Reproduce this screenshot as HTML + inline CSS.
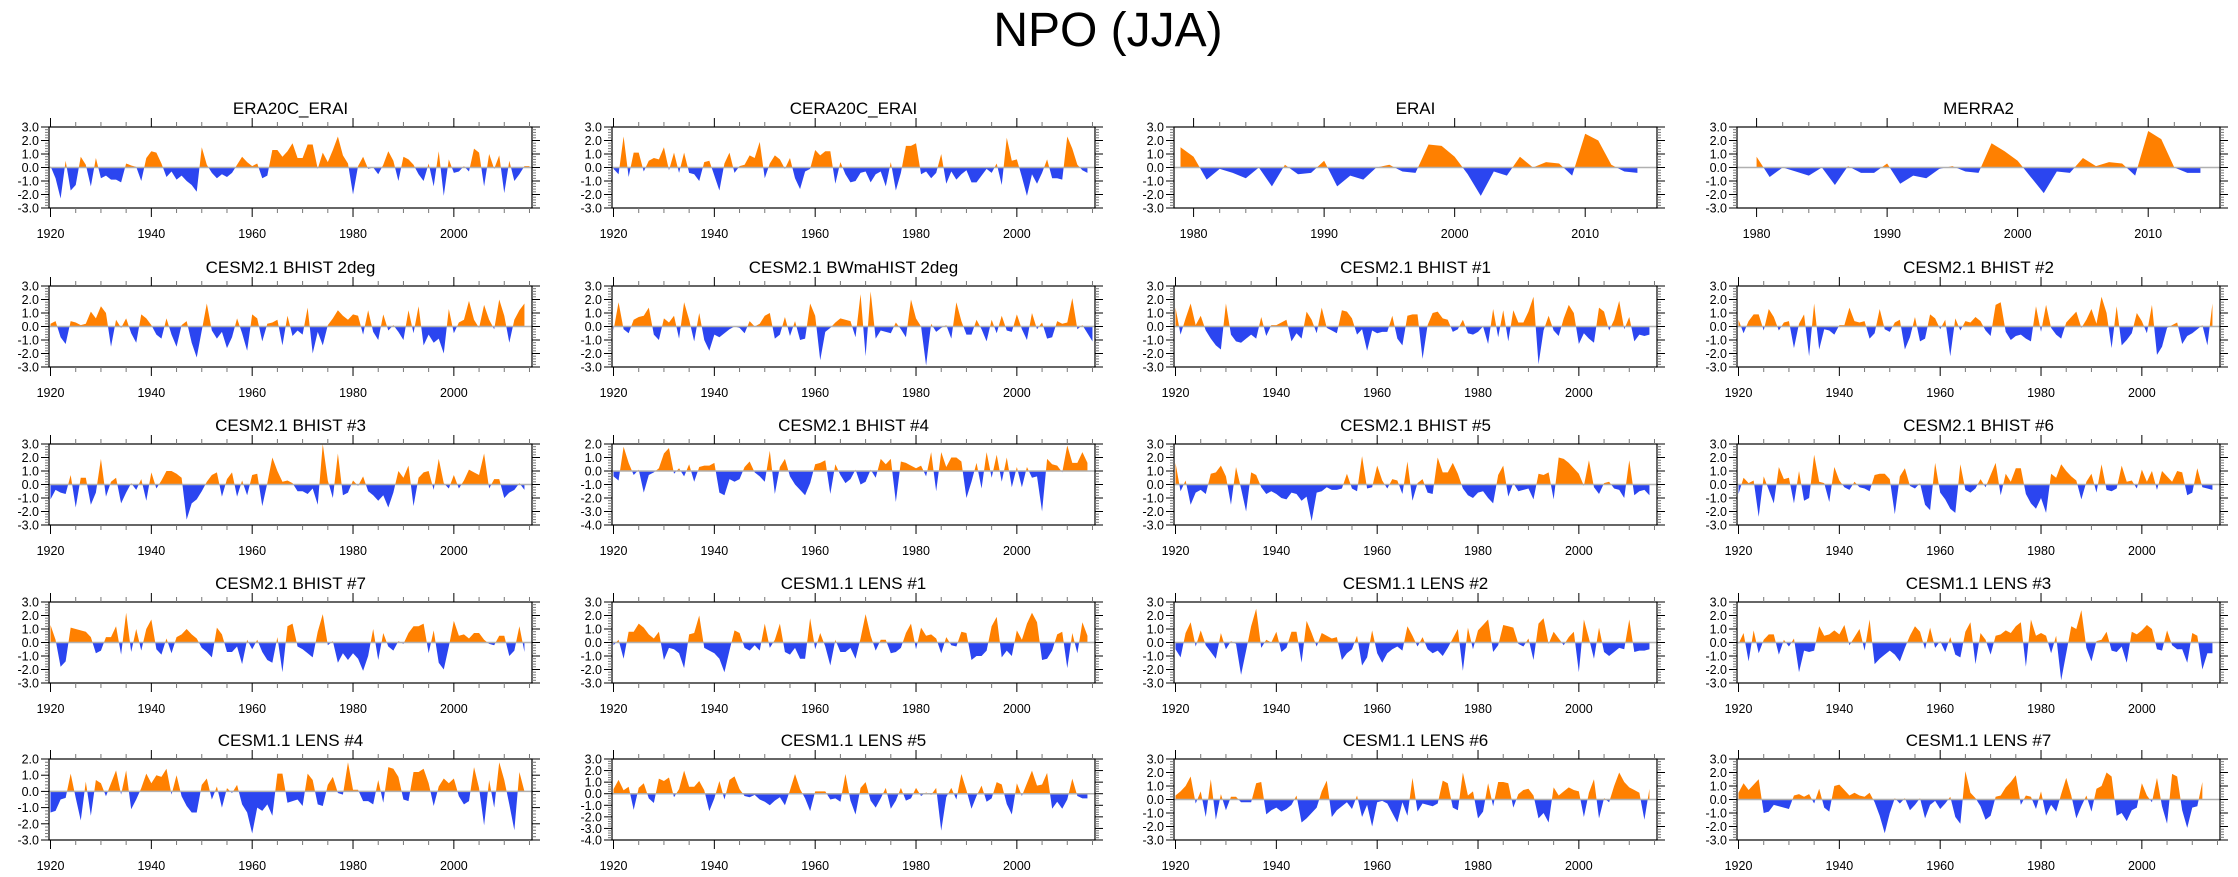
<!DOCTYPE html>
<html><head><meta charset="utf-8"><style>
html,body{margin:0;padding:0;background:#fff}
svg{display:block;font-family:"Liberation Sans",sans-serif}
</style></head><body>
<svg id="fig" width="2238" height="877" viewBox="0 0 2238 877" xmlns="http://www.w3.org/2000/svg">
<text x="1108" y="46" font-size="48" text-anchor="middle">NPO (JJA)</text>
<defs id="defs"></defs>
</svg>
<script>
// ---- data (annual NPO index) ----
const era20cErai = [0.1,-0.8,-2.3,0.5,-1.7,-1.3,0.8,0.2,-1.4,0.7,-0.8,-0.6,-0.9,-0.9,-1.1,0.3,0.15,0.05,-1.0,0.7,1.2,1.1,0.3,-0.7,-0.3,-0.9,-0.6,-1.0,-1.3,-1.8,1.5,0.2,-0.4,-0.8,-0.5,-0.7,-0.4,0.2,0.8,0.4,0.1,0.3,-0.8,-0.6,1.3,1.3,0.8,1.2,1.8,0.7,0.7,1.7,1.7,-0.1,1.1,0.4,1.3,2.3,0.9,0.3,-2.0,0.1,0.8,-0.1,0.0,-0.5,0.2,1.2,0.5,-1.0,0.8,0.6,0.2,-0.5,-1.0,0.3,-1.4,1.2,-2.1,0.6,-0.4,-0.3,0.1,-0.3,1.4,1.1,-1.4,1.0,-0.1,0.9,-1.9,0.5,-1.0,-0.5,0.1,0.1];
const cera20cErai = [-0.1,-0.5,2.3,-0.7,1.1,1.1,-0.3,0.5,0.7,0.6,1.5,-0.2,1.1,-0.4,1.1,-0.4,-0.5,-1.0,0.4,0.5,-0.6,-1.7,0.3,1.1,-0.4,0.1,0.2,0.9,0.7,1.9,-0.8,0.3,0.9,0.6,-0.1,0.7,-0.8,-1.6,-0.3,-0.1,1.3,0.9,1.2,1.2,-1.2,0.4,-0.5,-1.1,-1.0,-0.4,-0.3,-1.1,-0.5,-0.3,-1.4,0.4,-1.7,-0.4,1.6,1.6,1.8,-0.5,-0.3,-0.8,-0.4,1.0,-1.2,-0.3,-0.9,-0.5,-0.2,-1.1,-1.1,-0.6,-0.1,-0.4,0.3,-1.3,2.2,0.5,0.6,-0.7,-2.1,-0.5,-1.2,-0.4,0.6,-0.8,-0.8,-0.9,2.3,1.4,0.2,-0.2,-0.4];
const erai = [1.5,0.8,-0.9,-0.1,-0.4,-0.8,0.0,-1.4,0.2,-0.5,-0.4,0.5,-1.4,-0.6,-0.9,0.0,0.2,-0.3,-0.4,1.7,1.6,0.8,-0.5,-2.1,-0.3,-0.6,0.8,0.0,0.4,0.3,-0.6,2.5,2.0,0.2,-0.3,-0.4];
const merra2 = [0.8,-0.7,0.0,-0.3,-0.6,0.0,-1.3,0.1,-0.4,-0.4,0.3,-1.2,-0.6,-0.8,-0.1,0.1,-0.3,-0.4,1.8,1.2,0.5,-0.7,-1.9,-0.3,-0.4,0.7,0.1,0.4,0.3,-0.6,2.7,2.1,0.0,-0.4,-0.4];
const bhist2deg = [0.2,0.4,-0.8,-1.3,0.4,0.3,0.1,0.2,1.1,0.6,1.5,1.0,-1.5,0.5,-0.1,0.6,-0.5,-1.2,0.9,0.6,0.1,-0.6,-0.9,0.6,-0.6,-1.5,0.1,0.4,-1.2,-2.3,-0.3,1.7,-0.3,-0.9,-0.4,-1.6,-0.8,0.6,-0.5,-1.8,0.9,0.6,-1.1,0.2,0.3,0.5,-1.4,0.8,-0.7,-0.3,-0.6,1.4,-2.0,-0.4,-1.4,0.1,0.6,1.2,0.8,0.5,0.9,0.8,-0.6,1.2,-0.4,-1.0,0.9,-0.3,0.1,-0.4,-1.0,1.2,-0.5,1.5,-1.4,-0.6,-1.2,-0.9,-2.0,1.3,-0.5,0.3,0.5,1.9,0.5,-0.1,1.6,0.5,-0.2,2.0,0.8,-1.2,0.5,1.2,1.7];
const bwmahist2deg = [-0.3,1.8,-0.2,-0.5,0.5,0.7,0.8,1.4,-0.6,-1.0,0.6,0.3,0.8,-0.9,1.8,0.5,-1.1,1.0,-1.0,-1.8,-0.6,-0.8,-0.5,-0.2,0.0,-0.1,-0.5,0.4,0.0,0.2,0.8,1.0,-0.9,-0.6,0.7,-0.7,0.4,-1.0,-0.9,1.7,0.8,-2.5,-0.4,-0.1,0.3,0.6,0.5,0.4,-0.8,2.4,-2.2,2.6,-0.9,-0.3,-0.4,-0.5,0.3,-0.2,-0.8,2.0,0.6,0.0,-2.9,0.2,-0.4,-0.1,0.1,-0.9,1.8,0.4,-0.6,-0.6,0.5,-0.2,-1.1,0.5,-0.5,0.8,-0.3,-0.4,0.9,-0.2,-1.0,1.0,-0.2,0.3,-0.9,-0.8,0.4,0.2,0.3,2.1,-0.2,0.1,-0.5,-1.1];
const bhist1 = [1.4,-0.6,0.6,1.7,0.1,0.8,-0.3,-0.9,-1.4,-1.7,1.7,-0.6,-1.1,-1.2,-0.9,-0.6,-0.9,0.7,-0.7,0.1,0.1,0.3,0.5,-1.1,-0.5,-0.9,1.1,0.5,-0.5,1.4,-0.1,-0.3,-0.5,1.2,1.1,0.6,-0.6,-0.2,-1.8,-0.3,-0.5,-0.4,-0.4,0.8,-0.9,-1.4,0.8,0.9,0.9,-2.4,0.1,1.0,1.1,0.6,0.5,-0.4,-0.2,0.5,-0.5,-0.6,-0.4,0.0,-1.3,1.3,-0.8,1.2,-1.1,1.2,0.3,0.3,1.1,2.2,-2.8,-0.3,0.8,-0.3,-0.7,0.6,1.6,1.0,-1.3,-0.5,-0.9,-1.2,1.4,1.1,-0.3,0.5,1.9,-0.2,0.7,-1.1,-0.6,-0.7,-0.6];
const bhist2 = [0.5,-0.5,0.4,0.9,0.9,-0.3,1.3,0.7,-0.3,0.3,0.4,-1.6,0.2,0.9,-2.2,1.7,-1.7,-0.2,-0.3,-0.6,0.1,0.1,1.4,0.4,0.3,0.4,-0.9,-0.5,1.3,-0.2,-0.4,0.3,0.5,-1.7,-0.8,0.7,-1.1,-0.9,0.9,0.6,-0.2,0.5,-2.2,0.6,-0.3,0.4,0.3,0.7,0.4,-0.3,-0.7,1.6,1.8,-0.4,-1.0,-0.7,-0.6,-0.9,-1.1,1.5,-0.4,1.6,-0.1,-0.6,-0.9,0.3,0.7,1.1,-0.1,0.5,1.3,0.2,2.2,1.0,-1.6,1.5,-1.4,-1.0,-0.5,1.0,0.4,-0.5,1.6,-2.1,-1.5,-0.1,0.1,0.3,-1.3,-0.7,-0.5,-0.2,0.1,-1.4,1.7];
const bhist3 = [-1.1,-0.4,-0.6,-0.7,0.7,-1.7,0.5,0.5,-1.5,-0.6,1.9,-0.9,0.2,0.5,-1.4,-0.6,0.1,-0.4,0.4,-1.2,0.9,-0.3,0.3,1.0,1.0,0.8,0.5,-2.6,-1.4,-1.1,-0.5,0.2,0.7,0.9,-0.9,0.4,0.9,-0.9,0.3,-0.8,0.7,0.8,-1.6,0.1,2.0,1.0,0.2,0.3,0.1,-0.5,-0.5,-0.7,-0.3,-1.5,3.0,0.3,-1.0,2.3,-0.8,-0.6,0.3,-0.1,0.6,-0.5,-0.8,-1.2,-0.8,-1.7,-0.6,1.0,0.5,1.4,-1.6,0.5,0.9,1.0,-0.4,1.9,0.1,-0.3,0.7,-0.3,0.3,1.1,0.9,0.7,2.3,-0.3,0.4,0.4,-1.0,-0.6,-0.4,0.1,-0.4];
const bhist4 = [-0.4,-0.7,1.8,0.6,-0.3,0.1,-1.6,-0.3,-0.1,0.2,1.3,1.7,-0.2,0.2,-0.4,0.5,-0.8,0.3,0.4,0.4,0.6,-1.6,-1.8,-0.6,-0.8,-0.6,0.3,0.7,-0.1,-0.4,-0.8,1.5,-1.7,0.3,0.9,-0.4,-1.0,-1.4,-1.8,-0.9,0.5,0.6,0.8,-1.7,0.5,-0.3,-0.9,-0.6,0.1,-1.0,-0.8,0.1,-0.5,0.9,0.5,0.9,-2.3,0.7,0.6,0.4,0.2,0.4,-0.4,1.4,-1.5,1.4,0.3,1.0,1.0,0.7,-2.0,-0.8,0.6,-1.3,1.4,-0.5,1.2,-0.8,1.0,-1.2,0.3,-1.2,0.3,-0.5,-0.4,-3.0,0.9,0.5,0.4,-0.1,1.9,0.6,0.6,1.4,0.6];
const bhist5 = [1.6,-0.5,0.3,-1.5,-0.6,-0.4,-0.7,0.8,0.9,1.4,0.6,-1.5,1.3,-0.3,-2.0,0.9,0.7,-0.2,-0.7,-0.5,-0.7,-1.0,-1.1,-0.6,-0.7,-1.2,-0.9,-2.7,-0.6,-0.5,-0.2,-0.4,-0.4,-0.3,0.8,-0.3,-0.5,2.1,-0.3,-0.2,1.4,0.3,-0.3,0.4,0.3,-0.7,1.7,-1.2,0.1,0.4,-0.6,-0.7,2.0,0.9,0.9,1.6,0.8,-0.3,-0.8,-1.0,-0.6,-0.5,-1.0,-1.4,0.7,1.4,-0.9,0.1,-0.5,-0.4,-0.3,-1.1,0.8,0.7,0.9,-1.1,2.0,1.9,1.6,1.2,0.8,-0.1,1.8,-0.2,-0.7,0.1,0.2,-0.3,-0.4,-1.0,1.8,-0.8,-0.5,-0.4,-0.8];
const bhist6 = [-0.7,0.5,0.1,0.3,-2.4,0.6,-0.4,-1.4,1.3,0.4,0.5,-1.4,1.0,-1.2,-1.0,2.2,0.2,0.1,-1.3,1.3,0.3,-0.2,-0.4,0.2,-0.2,-0.3,-0.5,0.7,0.8,0.8,0.4,-2.2,0.6,1.2,-0.1,-0.3,0.1,-1.5,-1.9,1.6,-0.6,-1.1,-1.8,-2.1,1.5,-0.4,-0.6,-0.3,0.4,-0.2,0.7,1.6,-0.8,0.8,0.2,1.2,1.2,-0.7,-1.4,-1.8,-1.0,-2.1,0.8,0.5,1.5,1.0,0.6,0.3,-1.1,0.2,0.8,-0.6,1.5,-0.4,-0.5,-0.3,1.4,0.2,0.3,-0.3,1.1,0.2,1.0,-0.4,1.0,0.6,0.2,1.0,0.9,-0.8,-0.6,1.2,-0.2,-0.3,-0.4];
const bhist7 = [1.3,0.2,-1.8,-1.4,1.1,1.0,0.9,0.8,0.4,-0.8,-0.6,0.4,0.4,1.2,-0.9,2.2,-0.7,1.0,-0.6,1.0,1.7,-0.5,-0.9,0.3,-0.8,0.4,0.6,1.0,0.6,0.3,-0.4,-0.7,-1.1,1.1,0.6,-0.7,-0.7,-0.3,-1.6,0.2,-0.5,0.2,-0.7,-1.3,-1.5,0.4,-2.2,1.2,1.4,-0.3,-0.5,-0.8,-1.1,0.8,2.1,-0.2,0.1,-1.5,-0.8,-1.3,-0.8,-1.2,-2.1,-1.0,1.0,-1.3,0.7,-0.3,-0.6,0.1,-0.1,0.7,1.2,1.2,1.4,-0.8,0.9,-1.5,-2.0,-0.3,1.6,0.5,0.6,0.3,0.7,0.7,0.2,-0.1,-0.2,0.5,0.5,-1.0,-0.6,1.2,-0.7];
const lens1 = [-0.2,0.2,-1.2,0.8,0.8,1.4,1.1,0.6,0.3,0.8,-1.3,-0.4,-0.5,-0.8,-1.9,0.6,0.7,2.0,-0.4,-0.6,-0.8,-1.2,-2.2,-0.6,0.9,0.7,-0.4,-0.6,-0.2,-0.6,1.4,-0.4,0.2,1.4,-0.7,-0.9,-0.4,-1.2,-1.2,1.8,-0.5,0.7,-0.3,-1.7,0.2,-0.7,-0.7,-0.4,-1.2,0.3,2.1,0.5,-0.6,0.2,0.2,-0.8,-0.7,-0.4,0.7,1.4,-0.5,1.1,0.5,0.6,0.3,-0.8,0.4,-0.2,-0.3,0.8,0.7,-1.3,-1.0,-1.0,-0.6,1.2,1.9,-1.1,-0.6,-1.0,0.9,0.2,1.4,2.2,1.5,-1.3,-1.2,-0.6,0.6,0.8,-1.9,0.7,-0.8,1.5,0.5];
const lens2 = [-0.5,-1.1,0.7,1.5,-0.3,0.9,-0.2,-0.7,-1.2,0.7,-0.5,0.1,-0.1,-2.4,-0.6,1.2,2.5,-0.4,0.2,0.0,0.8,-0.7,-0.4,0.8,0.8,-1.5,1.6,0.7,-0.3,0.7,0.5,0.3,0.4,-1.3,-0.8,-0.5,0.5,-1.7,-1.1,0.9,-0.8,-1.5,-0.8,-0.5,-0.3,-0.6,1.2,0.5,-0.3,0.4,-0.5,-0.8,-0.6,-1.0,-0.4,0.3,1.0,-2.1,1.1,-0.5,0.9,1.3,1.7,-0.7,-0.2,1.3,1.2,1.1,-0.1,-0.3,0.3,-1.3,1.4,1.8,-0.1,0.8,0.3,-0.2,0.4,0.8,-2.2,1.7,0.3,-1.2,1.1,-0.7,-1.0,-0.7,-0.4,-0.5,1.7,-0.7,-0.6,-0.6,-0.5];
const lens3 = [-0.1,0.7,-1.4,0.9,-0.8,0.2,0.6,0.6,-0.9,0.2,-0.3,0.3,-2.2,-0.6,-0.7,-0.6,1.2,0.5,0.6,0.9,0.6,1.3,-0.2,0.4,1.0,-0.6,1.7,-1.6,-1.2,-0.9,-0.6,-0.9,-1.4,-0.4,0.5,1.2,0.8,-0.5,1.1,-0.4,0.1,-0.7,0.4,-0.9,-1.1,0.8,1.5,-1.6,0.7,0.2,-0.9,0.5,0.6,0.9,0.7,1.2,1.5,-1.8,1.7,0.5,0.7,0.5,-0.8,0.5,-2.8,-0.8,1.2,1.0,2.4,-0.4,-1.4,0.1,0.2,0.8,-0.6,-0.7,-0.3,-1.5,0.8,0.6,0.9,1.3,1.0,-0.5,-0.6,0.9,-0.2,-0.5,-0.5,-1.5,0.7,0.5,-2.0,-0.8,-0.8];
const lens4 = [-1.3,-1.2,-0.5,-0.4,1.1,-0.4,-1.8,0.6,-1.5,0.7,0.5,-0.3,0.5,1.3,-0.2,1.3,-1.1,-0.5,0.2,1.1,0.5,1.0,0.9,1.4,-0.2,1.0,-0.3,-0.9,-1.3,-1.3,0.4,0.8,-0.5,0.3,-1.0,0.2,-0.1,0.4,-0.8,-1.3,-2.6,-1.0,-1.2,-0.8,-1.5,1.1,1.1,-0.7,-0.6,-0.5,-0.9,1.1,0.7,-0.8,-0.9,0.4,0.9,-0.1,-0.2,1.8,0.1,0.1,-0.6,-0.6,-0.8,0.7,-0.7,1.5,1.4,0.9,-0.5,-0.6,1.2,1.2,1.4,0.5,-0.9,0.3,0.8,0.5,0.8,-0.3,-0.8,-0.6,1.5,0.2,-2.1,0.7,-1.0,1.8,0.7,-0.8,-2.4,1.2,0.0];
const lens5 = [0.4,1.2,0.3,0.6,-1.4,0.5,0.9,-0.4,-0.8,1.3,1.1,1.4,-0.3,0.4,2.0,0.6,0.6,1.1,0.3,-1.5,-0.4,1.1,-0.5,1.2,1.5,0.4,-0.2,-0.3,-0.1,-0.5,-0.7,-1.0,-0.6,-0.3,-1.0,0.3,1.7,0.4,-0.4,-1.5,0.2,0.2,0.2,-0.5,-0.4,-0.7,1.7,-0.6,-1.8,0.5,1.0,-0.6,-1.2,-0.4,0.5,-1.3,-0.6,0.5,-0.6,-0.4,0.5,-0.2,0.1,-0.1,0.5,-3.2,-0.3,0.5,-0.5,1.7,0.3,-1.3,-0.2,0.7,-0.7,-0.4,1.0,0.8,-0.9,-1.8,0.9,-0.2,0.9,2.0,0.7,0.8,1.8,-1.3,-0.7,-1.3,-0.5,1.3,-0.2,-0.4,-0.4];
const lens6 = [0.3,0.6,1.0,1.7,-0.3,0.6,-1.3,1.5,-1.5,0.4,-0.8,0.2,0.2,-0.2,-0.2,-0.2,1.2,1.3,-1.1,-0.8,-0.6,-0.9,-0.7,-0.4,0.3,-1.7,-1.4,-1.0,-0.6,0.6,1.4,-1.3,-0.8,-0.5,-0.2,-0.7,0.3,-1.3,-0.4,-2.0,-0.2,-0.1,-0.3,-1.0,-1.7,-0.2,-1.2,1.6,-0.9,-0.3,-0.4,-0.5,-0.3,1.4,1.2,-0.6,-0.8,2.0,0.3,0.6,-1.4,-0.9,1.2,-0.5,1.3,1.3,1.2,-0.6,0.4,0.7,0.8,0.3,-1.4,-1.0,-1.7,0.9,0.3,0.6,0.9,0.7,0.6,-1.3,0.5,1.5,-1.4,0.1,-0.2,1.0,2.0,1.3,0.9,0.7,0.5,-1.5,0.8];
const lens7 = [0.5,1.2,0.7,1.1,1.5,-1.0,-0.9,-0.4,-0.5,-0.6,-0.7,0.3,0.4,0.2,0.4,-0.3,0.8,-0.6,-0.9,1.0,1.1,0.7,0.3,0.5,0.3,0.2,0.5,-0.2,-1.2,-2.5,-1.0,0.1,-0.3,0.1,-0.8,-0.4,0.1,-1.4,-0.4,-0.1,-0.7,-0.3,0.2,-1.3,-1.8,2.1,0.5,0.1,-0.5,-1.5,-1.2,0.2,0.3,0.9,1.3,1.8,-0.4,0.3,0.2,-0.7,0.6,-1.2,-0.4,-0.9,0.4,1.6,0.3,-1.4,-0.5,0.3,-0.9,0.8,1.0,2.0,1.7,-1.2,-1.0,-1.6,-0.8,-0.6,1.2,0.3,-0.2,1.6,-0.5,-1.8,1.9,1.7,-0.8,-2.1,-0.6,-0.5,1.3];
// panel titles and first years
const panelTitles = ["ERA20C_ERAI","CERA20C_ERAI","ERAI","MERRA2","CESM2.1 BHIST 2deg","CESM2.1 BWmaHIST 2deg","CESM2.1 BHIST #1","CESM2.1 BHIST #2","CESM2.1 BHIST #3","CESM2.1 BHIST #4","CESM2.1 BHIST #5","CESM2.1 BHIST #6","CESM2.1 BHIST #7","CESM1.1 LENS #1","CESM1.1 LENS #2","CESM1.1 LENS #3","CESM1.1 LENS #4","CESM1.1 LENS #5","CESM1.1 LENS #6","CESM1.1 LENS #7"];
const panelSeries = [era20cErai,cera20cErai,erai,merra2,bhist2deg,bwmahist2deg,bhist1,bhist2,bhist3,bhist4,bhist5,bhist6,bhist7,lens1,lens2,lens3,lens4,lens5,lens6,lens7];
const panelStartYears = [1920,1920,1979,1980,1920,1920,1920,1920,1920,1920,1920,1920,1920,1920,1920,1920,1920,1920,1920,1920];
const panelYMin = [-3,-3,-3,-3,-3,-3,-3,-3,-3,-4,-3,-3,-3,-3,-3,-3,-3,-4,-3,-3];
const panelYMax = [3,3,3,3,3,3,3,3,3,2,3,3,3,3,3,3,2,3,3,3];

const NS = "http://www.w3.org/2000/svg";
const svg = document.getElementById('fig');
const defs = document.getElementById('defs');
const colLeft = [49, 612, 1174, 1737], W = 483, H = 81;
const rowTop = [127, 286, 444, 602, 759];
function mk(tag, attrs, parent){const e=document.createElementNS(NS,tag);for(const k in attrs)e.setAttribute(k,attrs[k]);(parent||svg).appendChild(e);return e;}
function slug(s){return s.toLowerCase().replace(/[^a-z0-9]+/g,'-').replace(/^-|-$/g,'');}

panelSeries.forEach((vals, i) => {
  const L = colLeft[i%4], T = rowTop[Math.floor(i/4)];
  const reanal = (i===2||i===3);
  const xmin = reanal ? 1978.5 : 1919.7, xmax = reanal ? 2015.5 : 2015.5;
  const ymin = panelYMin[i], ymax = panelYMax[i];
  const sx = y => L + (y - xmin) / (xmax - xmin) * W;
  const sy = v => T + (ymax - v) / (ymax - ymin) * H;
  const g = mk('g', {});
  
  
  const t = mk('text', {x: L + W/2, y: T - 13, 'font-size': 17, 'text-anchor': 'middle'}, g);
  
  
  t.textContent = panelTitles[i];
  // area
  const y0 = sy(0);
  let d = 'M' + sx(panelStartYears[i]) + ',' + y0;
  vals.forEach((v, k) => { d += ' L' + sx(panelStartYears[i] + k).toFixed(2) + ',' + sy(v).toFixed(2); });
  d += ' L' + sx(panelStartYears[i] + vals.length - 1).toFixed(2) + ',' + y0 + ' Z';
  const cpA = mk('clipPath', {id: 'ca' + i}, defs); mk('rect', {x: L, y: T, width: W, height: y0 - T}, cpA);
  const cpB = mk('clipPath', {id: 'cb' + i}, defs); mk('rect', {x: L, y: y0, width: W, height: T + H - y0}, cpB);
  const pa = mk('path', {d: d, fill: '#ff8000', 'clip-path': 'url(#ca' + i + ')'}, g);
  
  
  const pb = mk('path', {d: d, fill: '#2b45f0', 'clip-path': 'url(#cb' + i + ')'}, g);
  
  
  mk('line', {x1: L, x2: L + W, y1: y0, y2: y0, stroke: '#b0b0b0', 'stroke-width': 1.5}, g);
  // frame
  const fr = mk('rect', {x: L, y: T, width: W, height: H, fill: 'none', stroke: '#000', 'stroke-width': 1.2}, g);
  
  
  // y ticks
  for (let v = ymin; v <= ymax + 1e-9; v += 0.2) {
    const vv = Math.round(v * 10) / 10, yy = sy(vv);
    const major = Math.abs(vv - Math.round(vv)) < 1e-6;
    const len = major ? 8 : 4;
    mk('line', {x1: L - len, x2: L, y1: yy, y2: yy, stroke: major ? '#000' : '#777', 'stroke-width': 1}, g);
    mk('line', {x1: L + W, x2: L + W + len, y1: yy, y2: yy, stroke: major ? '#000' : '#777', 'stroke-width': 1}, g);
    if (major) {
      const lb = mk('text', {x: L - 10, y: yy + 4.5, 'font-size': 12.5, 'text-anchor': 'end'}, g);
      
      
      lb.textContent = vv.toFixed(1);
    }
  }
  // x ticks
  const minorStep = reanal ? 2 : 5, majorStep = reanal ? 10 : 20;
  for (let yr = Math.ceil(xmin / minorStep) * minorStep; yr <= xmax; yr += minorStep) {
    const xx = sx(yr), major = yr % majorStep === 0, len = major ? 9 : 5;
    mk('line', {x1: xx, x2: xx, y1: T - len, y2: T, stroke: major ? '#000' : '#777', 'stroke-width': 1}, g);
    mk('line', {x1: xx, x2: xx, y1: T + H, y2: T + H + len, stroke: major ? '#000' : '#777', 'stroke-width': 1}, g);
    if (major) {
      const lb = mk('text', {x: xx, y: T + H + 30, 'font-size': 12.5, 'text-anchor': 'middle'}, g);
      
      
      lb.textContent = yr;
    }
  }
});
</script>
</body></html>
